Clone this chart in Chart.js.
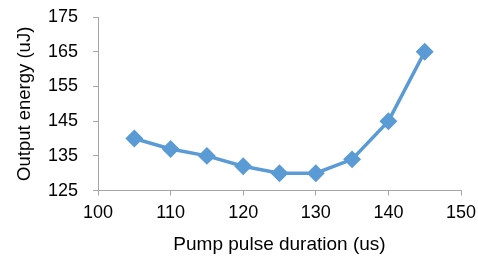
<!DOCTYPE html>
<html lang="en">
<head>
    <meta charset="UTF-8">
    <title>Output energy vs pump pulse duration</title>
    <script src="https://cdn.jsdelivr.net/npm/chart.js"></script>
    <style>
        html, body {
            margin: 0;
            padding: 0;
            background: #ffffff;
        }
    </style>
</head>
<body>
    <canvas id="lineChart" width="478" height="256"></canvas>
    <script>
        // Data
        const pulseDuration = [105, 110, 115, 120, 125, 130, 135, 140, 145];
        const outputEnergy = [140, 137, 135, 132, 130, 130, 134, 145, 165];
        const xTicks = [100, 110, 120, 130, 140, 150];
        const yTicks = [125, 135, 145, 155, 165, 175];

        const points = pulseDuration.map((x, i) => ({ x: x, y: outputEnergy[i] }));

        const axisColor = '#a6a6a6';
        const textColor = '#000000';
        const fontFamily = '"Liberation Sans", Arial, sans-serif';

        var ctx = document.getElementById('lineChart').getContext('2d');
        new Chart(ctx, {
            type: 'scatter',
            data: {
                datasets: [{
                    data: points,
                    showLine: true,
                    borderColor: '#5b9bd5',
                    backgroundColor: '#5b9bd5',
                    borderWidth: 3.5,
                    pointStyle: 'rectRot',
                    pointRadius: 6.5,
                    pointHoverRadius: 6.5
                }]
            },
            options: {
                responsive: false,
                animation: false,
                layout: {
                    padding: { left: 14, right: 0, top: 0, bottom: 0 }
                },
                plugins: {
                    legend: { display: false },
                    tooltip: { enabled: false }
                },
                scales: {
                    x: {
                        type: 'linear',
                        min: 100,
                        max: 150,
                        afterBuildTicks: (axis) => {
                            axis.ticks = xTicks.map(v => ({ value: v }));
                        },
                        afterFit: (axis) => {
                            // chart.js doubles tick padding when sizing, so set it by hand
                            axis.paddingRight = 17;
                        },
                        grid: {
                            drawOnChartArea: false,
                            drawTicks: true,
                            tickLength: 5,
                            color: axisColor
                        },
                        border: { color: axisColor },
                        ticks: {
                            color: textColor,
                            font: { family: fontFamily, size: 18 },
                            padding: 7,
                            maxRotation: 0
                        },
                        title: {
                            display: true,
                            text: 'Pump pulse duration (us)',
                            color: textColor,
                            font: { family: fontFamily, size: 19 },
                            padding: { top: 2, bottom: 0 }
                        }
                    },
                    y: {
                        type: 'linear',
                        min: 125,
                        max: 175,
                        afterBuildTicks: (axis) => {
                            axis.ticks = yTicks.map(v => ({ value: v }));
                        },
                        afterFit: (axis) => {
                            axis.width = 84;
                            axis.paddingTop = 17;
                        },
                        grid: {
                            drawOnChartArea: false,
                            drawTicks: true,
                            tickLength: 5,
                            color: axisColor
                        },
                        border: { color: axisColor },
                        ticks: {
                            color: textColor,
                            font: { family: fontFamily, size: 18 },
                            padding: 15
                        },
                        title: {
                            display: true,
                            text: 'Output energy (uJ)',
                            color: textColor,
                            font: { family: fontFamily, size: 18.5 },
                            padding: { top: 0, bottom: 0 }
                        }
                    }
                }
            }
        });
    </script>
</body>
</html>
